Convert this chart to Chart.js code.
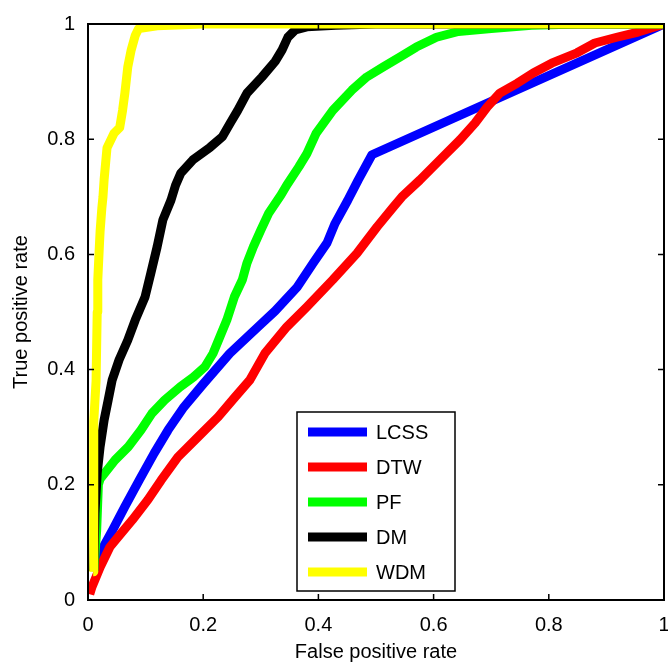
<!DOCTYPE html>
<html>
<head>
<meta charset="utf-8">
<script src="https://cdn.jsdelivr.net/npm/chart.js@4/dist/chart.umd.min.js"></script>
<style>
  html, body { margin: 0; padding: 0; background: #ffffff; }
  #wrap { width: 668px; height: 664px; }
</style>
</head>
<body>
<div id="wrap"><canvas id="roc" width="668" height="664"></canvas></div>
<script>
// ROC curves of five trajectory similarity measures
const seriesNames = ['LCSS', 'DTW', 'PF', 'DM', 'WDM'];
const seriesColors = ['#0000ff', '#ff0000', '#00ff00', '#000000', '#ffff00'];
const axisTicks = [0, 0.2, 0.4, 0.6, 0.8, 1];
const axisTickLabels = ['0', '0.2', '0.4', '0.6', '0.8', '1'];

const fprLCSS = [0.01, 0.02, 0.043, 0.064, 0.089, 0.115, 0.139, 0.165, 0.2, 0.246, 0.295, 0.325, 0.363, 0.391, 0.415, 0.429, 0.451, 0.469, 0.493, 1];
const tprLCSS = [0.05, 0.08, 0.122, 0.162, 0.208, 0.255, 0.295, 0.333, 0.375, 0.428, 0.474, 0.502, 0.543, 0.585, 0.62, 0.654, 0.694, 0.729, 0.773, 1];

const fprDTW = [0.003, 0.007, 0.021, 0.038, 0.052, 0.077, 0.104, 0.127, 0.156, 0.191, 0.226, 0.255, 0.281, 0.307, 0.345, 0.38, 0.425, 0.467, 0.502, 0.53, 0.545, 0.576, 0.611, 0.646, 0.672, 0.693, 0.715, 0.745, 0.773, 0.805, 0.849, 0.88, 0.918, 0.955, 1];
const tprDTW = [0.01, 0.023, 0.057, 0.092, 0.109, 0.139, 0.174, 0.208, 0.248, 0.283, 0.318, 0.352, 0.382, 0.428, 0.474, 0.509, 0.556, 0.602, 0.648, 0.682, 0.7, 0.729, 0.764, 0.799, 0.828, 0.856, 0.88, 0.897, 0.915, 0.932, 0.95, 0.967, 0.977, 0.986, 1];

const fprPF = [0.01, 0.015, 0.018, 0.021, 0.047, 0.07, 0.092, 0.111, 0.133, 0.16, 0.183, 0.203, 0.217, 0.229, 0.241, 0.254, 0.268, 0.276, 0.287, 0.3, 0.314, 0.335, 0.345, 0.366, 0.38, 0.396, 0.425, 0.458, 0.484, 0.512, 0.542, 0.57, 0.605, 0.643, 0.7, 0.77, 0.85, 1];
const tprPF = [0.05, 0.12, 0.2, 0.21, 0.243, 0.266, 0.295, 0.324, 0.347, 0.37, 0.387, 0.405, 0.428, 0.457, 0.486, 0.526, 0.556, 0.585, 0.613, 0.642, 0.672, 0.703, 0.72, 0.752, 0.775, 0.81, 0.85, 0.885, 0.908, 0.925, 0.943, 0.96, 0.977, 0.987, 0.992, 0.998, 1, 1];

const fprDM = [0.01, 0.012, 0.016, 0.021, 0.028, 0.035, 0.042, 0.054, 0.069, 0.082, 0.099, 0.109, 0.12, 0.13, 0.144, 0.152, 0.161, 0.182, 0.212, 0.233, 0.247, 0.26, 0.276, 0.302, 0.325, 0.337, 0.347, 0.36, 0.38, 0.43, 0.5, 1];
const tprDM = [0.05, 0.15, 0.22, 0.266, 0.3125, 0.347, 0.382, 0.417, 0.451, 0.486, 0.526, 0.567, 0.613, 0.66, 0.694, 0.72, 0.741, 0.764, 0.786, 0.804, 0.828, 0.85, 0.88, 0.908, 0.935, 0.955, 0.977, 0.99, 0.995, 0.998, 1, 1];

const fprWDM = [0.009, 0.01, 0.01, 0.014, 0.016, 0.017, 0.02, 0.021, 0.024, 0.026, 0.028, 0.033, 0.045, 0.055, 0.06, 0.064, 0.069, 0.075, 0.082, 0.088, 0.12, 0.2, 1];
const tprWDM = [0.049, 0.2, 0.31, 0.38, 0.5, 0.556, 0.62, 0.64, 0.68, 0.7, 0.73, 0.785, 0.81, 0.82, 0.85, 0.88, 0.925, 0.955, 0.98, 0.992, 0.997, 1, 1];

const FONT = '"Liberation Sans", Arial, Helvetica, sans-serif';

function toPoints(xs, ys) {
  return xs.map((x, i) => ({ x: x, y: ys[i] }));
}

const curves = [
  toPoints(fprLCSS, tprLCSS),
  toPoints(fprDTW, tprDTW),
  toPoints(fprPF, tprPF),
  toPoints(fprDM, tprDM),
  toPoints(fprWDM, tprWDM)
];

const datasets = curves.map((pts, i) => ({
  label: seriesNames[i],
  data: pts,
  borderColor: seriesColors[i],
  backgroundColor: seriesColors[i],
  borderWidth: 9,
  borderJoinStyle: 'round',
  borderCapStyle: 'butt',
  pointRadius: 0,
  pointHoverRadius: 0,
  tension: 0,
  fill: false,
  clip: 0,
  order: seriesNames.length - i // later series are painted on top
}));

function tickText(value) {
  const k = axisTicks.indexOf(value);
  return k >= 0 ? axisTickLabels[k] : '';
}

// Box frame with inward tick marks on all four sides
const framePlugin = {
  id: 'frame',
  afterDatasetsDraw(chart) {
    const { ctx, chartArea: a, scales } = chart;
    ctx.save();
    ctx.strokeStyle = '#000';
    ctx.lineWidth = 1.5;
    const len = 6;
    ctx.beginPath();
    axisTicks.forEach(v => {
      const px = scales.x.getPixelForValue(v);
      ctx.moveTo(px, a.bottom); ctx.lineTo(px, a.bottom - len);
      ctx.moveTo(px, a.top); ctx.lineTo(px, a.top + len);
      const py = scales.y.getPixelForValue(v);
      ctx.moveTo(a.left, py); ctx.lineTo(a.left + len, py);
      ctx.moveTo(a.right, py); ctx.lineTo(a.right - len, py);
    });
    ctx.stroke();
    ctx.lineWidth = 2;
    ctx.strokeRect(a.left, a.top, a.right - a.left, a.bottom - a.top);
    ctx.restore();
  }
};

// Boxed legend placed inside the plot area
const boxLegendPlugin = {
  id: 'boxLegend',
  afterDraw(chart) {
    const { ctx, chartArea: a } = chart;
    const bx = a.left + 209, by = a.top + 388, bw = 158, bh = 179;
    ctx.save();
    ctx.fillStyle = '#fff';
    ctx.fillRect(bx, by, bw, bh);
    ctx.strokeStyle = '#000';
    ctx.lineWidth = 1.5;
    ctx.strokeRect(bx, by, bw, bh);
    ctx.font = '20px ' + FONT;
    ctx.textBaseline = 'middle';
    ctx.textAlign = 'left';
    chart.data.datasets.forEach((ds, i) => {
      const cy = by + 20 + i * 35;
      ctx.strokeStyle = ds.borderColor;
      ctx.lineWidth = 9;
      ctx.lineCap = 'butt';
      ctx.beginPath();
      ctx.moveTo(bx + 11, cy);
      ctx.lineTo(bx + 70, cy);
      ctx.stroke();
      ctx.fillStyle = '#000';
      ctx.fillText(ds.label, bx + 79, cy + 1);
    });
    ctx.restore();
  }
};

new Chart(document.getElementById('roc'), {
  type: 'line',
  data: { datasets: datasets },
  options: {
    responsive: false,
    animation: false,
    devicePixelRatio: 1,
    layout: { padding: { left: 0, right: 4, top: 24, bottom: 0 } },
    plugins: {
      legend: { display: false },
      tooltip: { enabled: false }
    },
    scales: {
      x: {
        type: 'linear',
        min: 0,
        max: 1,
        afterBuildTicks(scale) { scale.ticks = axisTicks.map(v => ({ value: v })); },
        afterFit(scale) { scale.height = 64; scale.paddingLeft = 0; scale.paddingRight = 0; },
        grid: { display: false, drawTicks: false },
        border: { display: false },
        ticks: { color: '#000', padding: 13, maxRotation: 0, font: { family: FONT, size: 20 }, callback: tickText },
        title: {
          display: true,
          text: 'False positive rate',
          color: '#000',
          padding: { top: 0, bottom: 0 },
          font: { family: FONT, size: 20 }
        }
      },
      y: {
        type: 'linear',
        min: 0,
        max: 1,
        afterBuildTicks(scale) { scale.ticks = axisTicks.map(v => ({ value: v })); },
        afterFit(scale) { scale.width = 88; scale.paddingTop = 0; scale.paddingBottom = 0; },
        grid: { display: false, drawTicks: false },
        border: { display: false },
        ticks: { color: '#000', padding: 13, font: { family: FONT, size: 20 }, callback: tickText },
        title: {
          display: true,
          text: 'True positive rate',
          color: '#000',
          padding: { top: 9, bottom: 0 },
          font: { family: FONT, size: 20 }
        }
      }
    }
  },
  plugins: [framePlugin, boxLegendPlugin]
});
</script>
</body>
</html>
